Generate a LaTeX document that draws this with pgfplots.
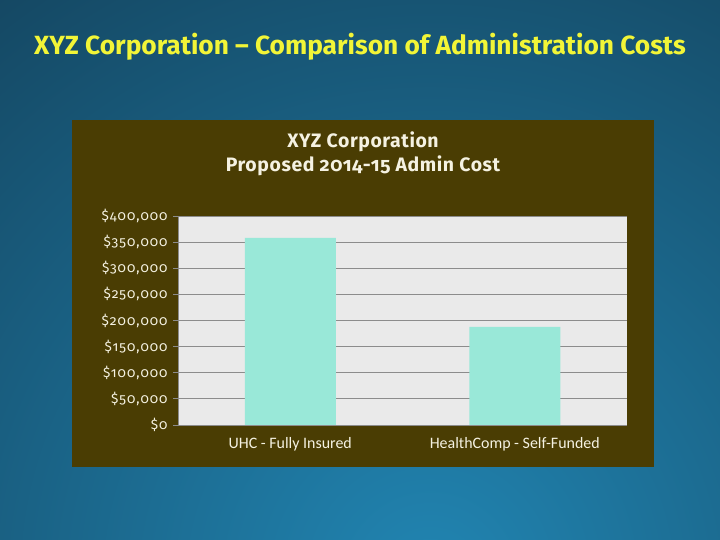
\documentclass[border=0pt]{standalone}
\usepackage{pgfplots}
\pgfplotsset{compat=1.18}
\usepackage{fontspec}
\setmainfont{Carlito}[Ligatures=NoCommon]
\newfontfamily\fira{Fira Sans}[Numbers=OldStyle,Ligatures=NoCommon]
\newfontfamily\firasp{Fira Sans}[Numbers=OldStyle,Ligatures=NoCommon,LetterSpace=7]
\newfontfamily\firact{Fira Sans}[Numbers=OldStyle,Ligatures=NoCommon,LetterSpace=3]
\definecolor{bgdark}{HTML}{134059}
\definecolor{bglight}{HTML}{2185B2}
\definecolor{panel}{HTML}{4A3D03}
\definecolor{plotbg}{HTML}{EAEAEA}
\definecolor{barc}{HTML}{99E8D8}
\definecolor{gridc}{HTML}{8C8C8C}
\definecolor{titley}{HTML}{F2F537}
\definecolor{cream}{HTML}{F5F2E2}
\begin{document}
\begin{tikzpicture}
\begin{scope}
\clip (0bp,0bp) rectangle (720bp,540bp);
\fill[bgdark] (0bp,0bp) rectangle (720bp,540bp);
\shade[inner color=bglight, outer color=bgdark] (430bp,-40bp) circle (820bp);
\end{scope}
\fill[panel] (72bp,73bp) rectangle (654bp,420bp);
\node[text=titley, font=\fira\bfseries\fontsize{26.4}{30}\selectfont] at (360bp,493bp) {XYZ Corporation – Comparison of Administration Costs};
\node[text=cream, font=\firact\bfseries\fontsize{19.5}{22}\selectfont, align=center] at (363bp,386bp) {XYZ Corporation\\[2bp]Proposed 2014-15 Admin Cost};
\begin{axis}[
  at={(178bp,115bp)}, anchor=south west,
  scale only axis, width=449bp, height=209bp,
  xmin=-0.5, xmax=1.5, ymin=0, ymax=400000,
  scaled y ticks=false,
  axis background/.style={fill=plotbg},
  axis line style={gridc, line width=0.8pt},
  axis x line*=bottom, axis y line*=left,
  ybar, bar width=91bp, bar shift=0pt,
  xtick={0,1}, xticklabels={UHC - Fully Insured, HealthComp - Self-Funded},
  extra x ticks={-0.5,0.5,1.5}, extra x tick labels={},
  extra x tick style={major tick length=4bp, tick align=outside, grid=none, tick style={gridc, line width=0.8pt}},
  x tick style={draw=none},
  x tick label style={text=cream, font=\fontsize{16}{18}\selectfont, yshift=-4bp},
  ytick={0,50000,100000,150000,200000,250000,300000,350000,400000},
  yticklabels={{\$0},{\$50,000},{\$100,000},{\$150,000},{\$200,000},{\$250,000},{\$300,000},{\$350,000},{\$400,000}},
  y tick label style={text=cream, font=\firasp\fontsize{13.8}{15}\selectfont, xshift=-2bp},
  ytick style={gridc, line width=0.8pt}, tick align=outside, major tick length=5bp,
  ymajorgrids, grid style={gridc, line width=0.9pt},
  clip=false,
]
\addplot[fill=barc, draw=none] coordinates {(0,358000) (1,188000)};
\end{axis}
\end{tikzpicture}
\end{document}
